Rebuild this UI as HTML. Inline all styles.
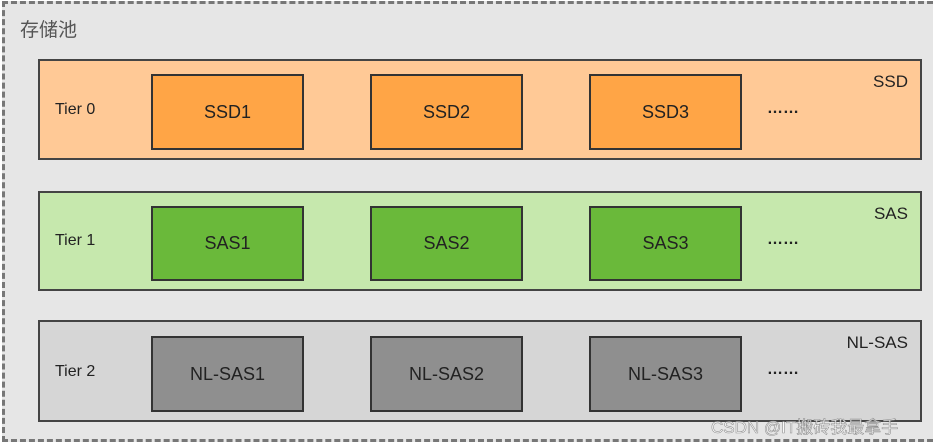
<!DOCTYPE html>
<html><head><meta charset="utf-8"><style>
body{margin:0;width:933px;height:445px;background:#fff;position:relative;overflow:hidden;font-family:"Liberation Sans","Noto Sans CJK SC",sans-serif}
.outer{position:absolute;left:2px;top:1px;width:940px;height:441px;border:3px dashed #777;background:#e6e6e6;box-sizing:border-box}
.t{position:absolute;left:20px;top:15px;font-size:19px;color:#555}
.row{position:absolute;left:38px;width:884px;border:2px solid #444;box-sizing:border-box}
.lab{position:absolute;left:15px;font-size:16px;color:#222}
.nm{position:absolute;right:12px;top:11px;font-size:17px;color:#222}
.b{position:absolute;width:153px;border:2px solid #333;box-sizing:border-box;display:flex;align-items:center;justify-content:center;font-size:18px;color:#222}
.dots{position:absolute;left:727px;font-size:16px;color:#222;font-weight:bold}
.wm{position:absolute;left:711px;top:413px;font-size:17px;color:#fff;-webkit-text-stroke:0.6px #888;opacity:.9}
</style></head><body>
<div class="outer"></div>
<div class="t">存储池</div>
<div class="row" style="top:59px;height:101px;background:#ffc996">
<div class="lab" style="top:40px">Tier 0</div><div class="nm">SSD</div>
<div class="b" style="left:111px;top:13px;height:76px;background:#ffa546">SSD1</div>
<div class="b" style="left:330px;top:13px;height:76px;background:#ffa546">SSD2</div>
<div class="b" style="left:549px;top:13px;height:76px;background:#ffa546">SSD3</div>
<div class="dots" style="top:39px">……</div></div>
<div class="row" style="top:191px;height:100px;background:#c6e8ad">
<div class="lab" style="top:39px">Tier 1</div><div class="nm">SAS</div>
<div class="b" style="left:111px;top:13px;height:75px;background:#6ab93a">SAS1</div>
<div class="b" style="left:330px;top:13px;height:75px;background:#6ab93a">SAS2</div>
<div class="b" style="left:549px;top:13px;height:75px;background:#6ab93a">SAS3</div>
<div class="dots" style="top:38px">……</div></div>
<div class="row" style="top:320px;height:102px;background:#d6d6d6">
<div class="lab" style="top:41px">Tier 2</div><div class="nm">NL-SAS</div>
<div class="b" style="left:111px;top:14px;height:76px;background:#8f8f8f">NL-SAS1</div>
<div class="b" style="left:330px;top:14px;height:76px;background:#8f8f8f">NL-SAS2</div>
<div class="b" style="left:549px;top:14px;height:76px;background:#8f8f8f">NL-SAS3</div>
<div class="dots" style="top:39px">……</div></div>
<div class="wm">CSDN @IT搬砖我最拿手</div>
</body></html>
